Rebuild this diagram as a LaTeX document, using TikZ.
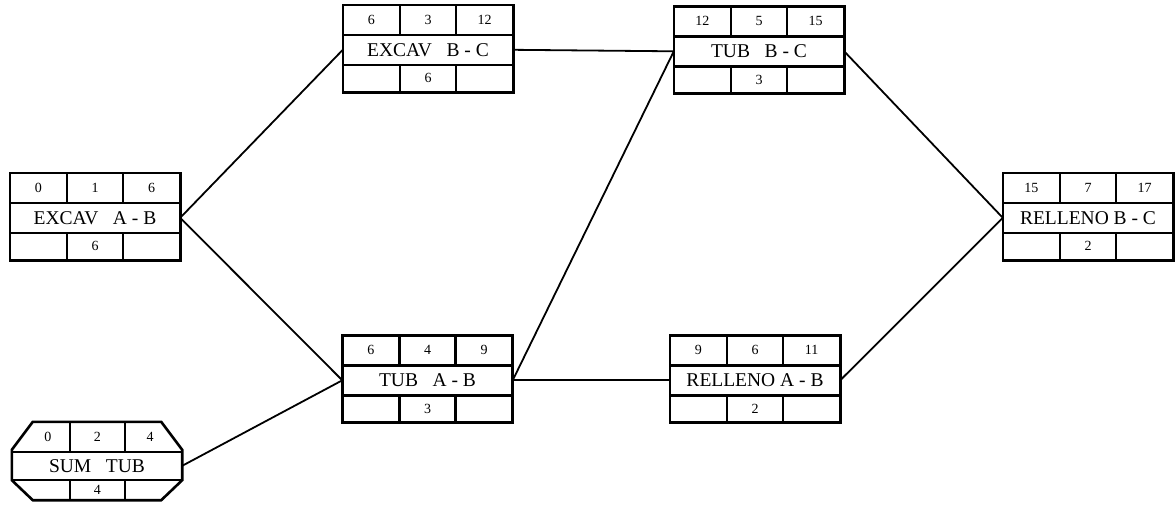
\documentclass[tikz,border=0pt]{standalone}
\usepackage{fontspec}
\setmainfont{Liberation Serif}
\begin{document}
\begin{tikzpicture}[x=1pt,y=-1pt,
  box/.style={draw=none,minimum width=170pt,minimum height=87pt,inner sep=0pt},
  cell/.style={font=\fontsize{14}{14}\selectfont,inner sep=0pt},
  lbl/.style={font=\fontsize{19.5}{20}\selectfont,inner sep=0pt},
  frame/.style={line width=2.6pt,line join=miter},
  edge/.style={line width=1.8pt}]
\useasboundingbox (0,0) rectangle (1175,512);
\newcommand\gap{\hspace{0.75em}}
\newcommand\actbox[7]{%
  \node[box] (#1) at (#2) {};
  \draw[frame] (#1.north west) rectangle (#1.south east);
  \draw[frame] ([yshift=-30pt]#1.north west) -- ([yshift=-30pt]#1.north east);
  \draw[frame] ([yshift=-60pt]#1.north west) -- ([yshift=-60pt]#1.north east);
  \draw[frame] ([xshift=57pt]#1.north west) -- ([xshift=57pt,yshift=-30pt]#1.north west);
  \draw[frame] ([xshift=113pt]#1.north west) -- ([xshift=113pt,yshift=-30pt]#1.north west);
  \draw[frame] ([xshift=57pt,yshift=-60pt]#1.north west) -- ([xshift=57pt]#1.south west);
  \draw[frame] ([xshift=113pt,yshift=-60pt]#1.north west) -- ([xshift=113pt]#1.south west);
  \node[cell] (#1-a) at ([xshift=28.5pt,yshift=-15pt]#1.north west) {#3};
  \node[cell] (#1-b) at ([yshift=-15pt]#1.north) {#4};
  \node[cell] (#1-c) at ([xshift=-28.5pt,yshift=-15pt]#1.north east) {#5};
  \node[lbl] (#1-l) at ([yshift=-45pt]#1.north) {#6};
  \node[cell] (#1-d) at ([yshift=-73.5pt]#1.north) {#7};
  \coordinate (#1-in) at ([yshift=-45pt]#1.north west);
  \coordinate (#1-out) at ([yshift=-45pt]#1.north east);
}
\actbox{ea}{95,216.5}{0}{1}{6}{EXCAV\gap A - B}{6}
\actbox{eb}{428,48.5}{6}{3}{12}{EXCAV\gap B - C}{6}
\actbox{ta}{427.5,379}{6}{4}{9}{TUB\gap A - B}{3}
\actbox{tb}{759,50}{12}{5}{15}{TUB\gap B - C}{3}
\actbox{ra}{755,379}{9}{6}{11}{RELLENO A - B}{2}
\actbox{rb}{1088,216.5}{15}{7}{17}{RELLENO B - C}{2}
% SUM TUB (chamfered box)
\node[draw=none,minimum width=170pt,minimum height=78pt,inner sep=0pt] (st) at (97,461) {};
\draw[frame] ([xshift=21pt]st.north west) -- ([xshift=-21pt]st.north east)
  -- ([yshift=-28pt]st.north east) -- ([yshift=20pt]st.south east)
  -- ([xshift=-21pt]st.south east) -- ([xshift=21pt]st.south west)
  -- ([yshift=20pt]st.south west) -- ([yshift=-28pt]st.north west) -- cycle;
\draw[frame] ([yshift=-30pt]st.north west) -- ([yshift=-30pt]st.north east);
\draw[frame] ([yshift=-58pt]st.north west) -- ([yshift=-58pt]st.north east);
\draw[frame] ([xshift=58pt]st.north west) -- ([xshift=58pt,yshift=-30pt]st.north west);
\draw[frame] ([xshift=113pt]st.north west) -- ([xshift=113pt,yshift=-30pt]st.north west);
\draw[frame] ([xshift=58pt,yshift=-58pt]st.north west) -- ([xshift=58pt]st.south west);
\draw[frame] ([xshift=113pt,yshift=-58pt]st.north west) -- ([xshift=113pt]st.south west);
\node[cell] (st-a) at ([xshift=36pt,yshift=-15pt]st.north west) {0};
\node[cell] (st-b) at ([xshift=85.5pt,yshift=-15pt]st.north west) {2};
\node[cell] (st-c) at ([xshift=-32pt,yshift=-15pt]st.north east) {4};
\node[lbl] (st-l) at ([yshift=-44pt]st.north) {SUM\gap TUB};
\node[cell] (st-d) at ([xshift=85.5pt,yshift=-68pt]st.north west) {4};
\coordinate (st-out) at ([yshift=-44pt]st.north east);
% connectors
\draw[edge] (ea-out) -- (eb-in);
\draw[edge] (ea-out) -- (ta-in);
\draw[edge] (st-out) -- (ta-in);
\draw[edge] (eb-out) -- (tb-in);
\draw[edge] (ta-out) -- (tb-in);
\draw[edge] (ta-out) -- (ra-in);
\draw[edge] (tb-out) -- (rb-in);
\draw[edge] (ra-out) -- (rb-in);
\end{tikzpicture}
\end{document}
